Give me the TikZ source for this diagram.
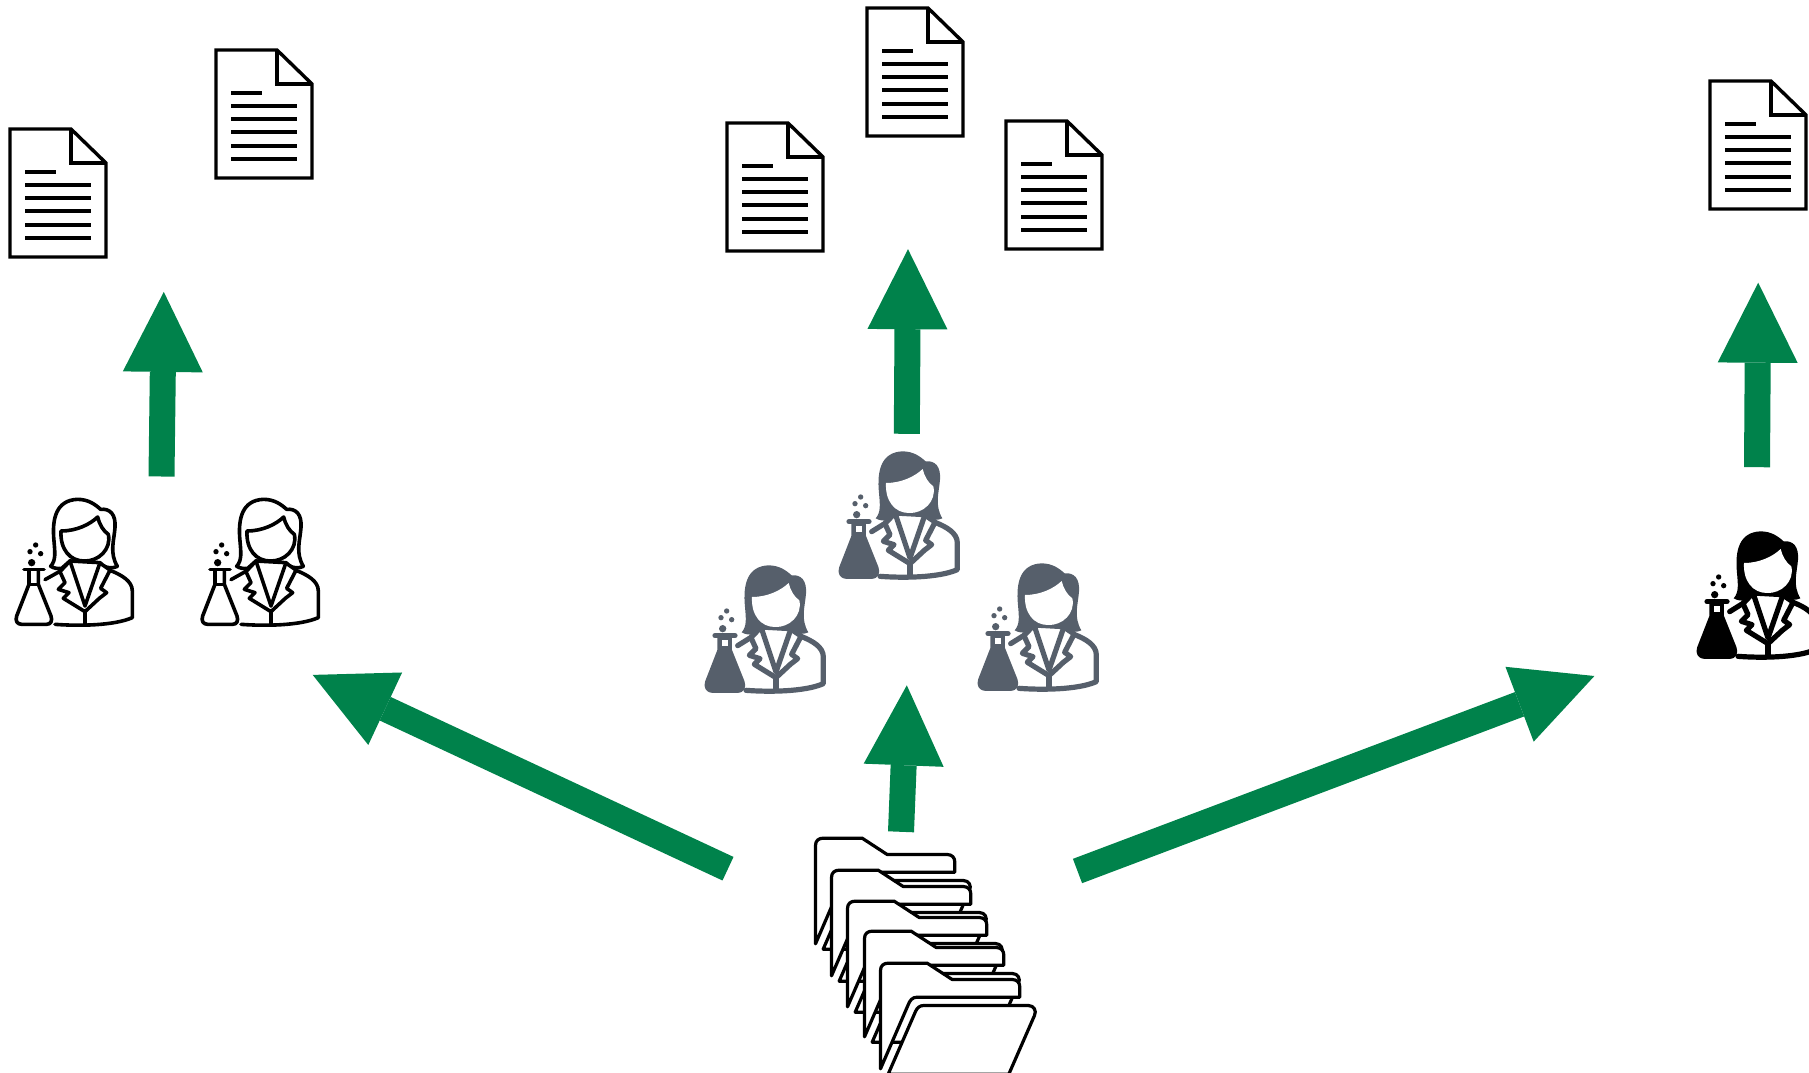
\documentclass[tikz,border=0pt]{standalone}
\usetikzlibrary{arrows.meta}
\definecolor{arrowgreen}{HTML}{00824B}
\definecolor{slate}{HTML}{565F6B}
\newcommand{\hairpath}{(152,256) .. controls (168,238) and (165,215) .. (162,180) .. controls (155,110) and (170,58) .. (232,55) .. controls (265,55) and (285,70) .. (302,85) .. controls (330,82) and (348,100) .. (345,140) .. controls (342,180) and (328,215) .. (352,256) .. controls (340,262) and (325,262) .. (310,255)--(210,240)--(185,262) .. controls (175,264) and (162,262) .. (152,256)--cycle}
\newcommand{\facepath}{(183,150) .. controls (230,150) and (270,130) .. (293,108) .. controls (298,130) and (310,150) .. (325,160) .. controls (335,205) and (295,242) .. (252,240) .. controls (210,240) and (180,205) .. (183,150)--cycle}
\newcommand{\flaskpath}{(87,268)--(87,310)--(50,405) .. controls (45,420) and (52,430) .. (65,430)--(140,430) .. controls (152,430) and (158,420) .. (153,405)--(115,310)--(115,268)}
\tikzset{
  bigarrow/.style={draw=arrowgreen,line width=26pt,-{Triangle[length=80pt,width=80pt,line width=0pt,fill=arrowgreen]}},
  pics/docicon/.style={code={
    \draw[line width=3.4pt,fill=white,miter limit=10] (0,0)--(61,0)--(96,34)--(96,128)--(0,128)--cycle;
    \draw[line width=3.4pt] (61,0)--(61,34)--(96,34);
    \foreach \yy/\xx in {43/46,56/81,69/81,82/81,96/81,109/81}{\draw[line width=3.2pt] (15,\yy)--(\xx,\yy);}
  }},
  pics/folderunit/.style={code={
    \begin{scope}[x=0.3333pt,y=-0.3333pt,line width=3.2pt,line join=round,fill=white]
    \filldraw (45,370)--(45,75) .. controls (45,60) and (55,53) .. (68,53)--(185,53)--(260,102)--(440,102) .. controls (455,102) and (463,112) .. (463,125)--(463,155)--(155,155) .. controls (140,155) and (133,165) .. (128,178)--cycle;
    \filldraw (68,386)--(150,198) .. controls (155,187) and (162,180) .. (175,180)--(488,180) .. controls (505,180) and (514,195) .. (507,210)--(430,386)--cycle;
    \end{scope}
  }},
  pics/personline/.style={code={
    \begin{scope}[x=0.3333pt,y=-0.3333pt,line width=3.6pt,line join=round,line cap=round]
    \filldraw[fill=white] \hairpath;
    \draw (135,296)--(185,268);
    \draw (330,268) .. controls (365,282) and (397,300) .. (397,330)--(397,410) .. controls (340,435) and (230,435) .. (165,430);
    \filldraw[fill=white] (210,240)--(300,245) .. controls (310,255) and (325,262) .. (330,268)--(302,322)--(320,335)--(298,352)--(255,392)--(190,352)--(207,335)--(175,325)--(195,305)--(180,272)--cycle;
    \draw (210,240)--(255,375)--(300,245);
    \draw (255,392)--(255,430);
    \filldraw[fill=white] \facepath;
    \draw (72,266)--(132,266);
    \draw \flaskpath;
    \draw (87,310)--(115,310);
    \fill (95,245) circle[radius=11] (90,212) circle[radius=8] (122,218) circle[radius=8] (107,192) circle[radius=8];
    \end{scope}
  }},
  pics/personsolid/.style={code={
    \begin{scope}[x=0.3333pt,y=-0.3333pt,line width=5.2pt,line join=round,line cap=round,draw=#1,fill=#1]
    \fill \hairpath;
    \draw (140,296)--(185,268);
    \draw (330,268) .. controls (365,282) and (397,300) .. (397,330)--(397,410) .. controls (340,435) and (230,435) .. (165,430);
    \filldraw[fill=white] (210,240)--(300,245) .. controls (310,255) and (325,262) .. (330,268)--(302,322)--(320,335)--(298,352)--(255,392)--(190,352)--(207,335)--(175,325)--(195,305)--(180,272)--cycle;
    \draw (210,240)--(255,375)--(300,245);
    \draw (255,392)--(255,430);
    \fill[white] \facepath;
    \draw (72,266)--(132,266);
    \filldraw \flaskpath--cycle;
    \fill[white] (93,280) rectangle (110,298);
    \fill (95,245) circle[radius=11] (90,212) circle[radius=8] (122,218) circle[radius=8] (107,192) circle[radius=8];
    \end{scope}
  }}
}
\begin{document}
\begin{tikzpicture}[x=1pt,y=-1pt]
\useasboundingbox (0,0) rectangle (1809,1073);
\clip (0,0) rectangle (1809,1073);
% documents
\pic at (10,129) {docicon};
\pic at (216,50) {docicon};
\pic at (727,123) {docicon};
\pic at (867,8) {docicon};
\pic at (1006,121) {docicon};
\pic at (1710,81) {docicon};
% people
\pic at (0,481) {personline};
\pic at (186,481) {personline};
\pic at (825,433) {personsolid={slate}};
\pic at (691,547) {personsolid={slate}};
\pic at (964,545) {personsolid={slate}};
\pic at (1683,513) {personsolid={black}};
% folders
\foreach \fx/\fy in {800.5/820.5,816.5/852.5,832.5/883.5,849.5/913.5,865.5/945.5}{\pic at (\fx,\fy) {folderunit};}
% arrows
\coordinate (a1s) at (161.5,476.5); \coordinate (a1e) at (163.8,291.9);
\coordinate (a2s) at (906.8,433.8); \coordinate (a2e) at (908,249.2);
\coordinate (a3s) at (1757,467.2); \coordinate (a3e) at (1758.2,282.7);
\coordinate (a4s) at (901,831.8); \coordinate (a4e) at (906.8,685.3);
\coordinate (a5s) at (728,868.7); \coordinate (a5e) at (312.7,674.9);
\coordinate (a6s) at (1077.5,871); \coordinate (a6e) at (1594.4,676);
\foreach \n in {1,...,6}{\draw[bigarrow] (a\n s)--(a\n e);}
\end{tikzpicture}
\end{document}
